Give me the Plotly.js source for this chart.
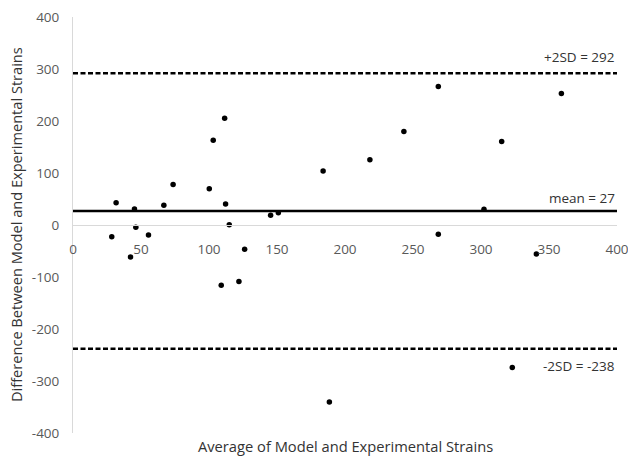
<!DOCTYPE html>
<html>
<head>
<meta charset="utf-8">
<script src="https://cdn.plot.ly/plotly-3.0.1.min.js"></script>
<style>
html,body{margin:0;padding:0;background:#fff;}
#chart{width:628px;height:457px;}
</style>
</head>
<body>
<div id="chart"></div>
<script>
// Average of model and experimental strains
var avgStrain = [31.7, 45.2, 46.2, 28.5, 55.5, 66.8, 73.6, 100.2, 103.1, 111.5, 112.2, 114.9, 145.3, 151.0, 183.9,
                 42.3, 109.0, 122.0, 126.2, 188.5,
                 218.3, 243.3, 268.6, 315.2, 359.1, 302.2, 268.6,
                 340.7, 323.0];
// Difference between model and experimental strains
var diffStrain = [42.8, 30.7, -4.5, -22.4, -19.2, 37.8, 78.1, 69.7, 163.2, 205.5, 40.3, 0.6, 18.6, 23.6, 103.7,
                  -61.4, -115.8, -108.8, -46.7, -340.5,
                  125.4, 179.9, 266.3, 160.7, 252.9, 30.1, -17.9,
                  -55.7, -274.0];
var limitNames = ['+2SD = 292', 'mean = 27', '-2SD = -238'];
var limitValues = [292, 27, -238];
var xSpan = [0, 400];
var yTicks = [-400, -300, -200, -100, 0, 100, 200, 300, 400];
var xTicks = [0, 50, 100, 150, 200, 250, 300, 350, 400];
var xTitle = 'Average of Model and Experimental Strains';
var yTitle = 'Difference Between Model and Experimental Strains';

var FONT = 'Open Sans, Noto Sans, sans-serif';
var traces = [];
limitValues.forEach(function(v, i){
  traces.push({
    x: xSpan, y: [v, v], mode: 'lines', hoverinfo: 'skip', showlegend: false,
    line: {color: '#000', width: 2.5, dash: i === 1 ? 'solid' : '5px,2.5px'}
  });
});
traces.push({
  x: avgStrain, y: diffStrain, mode: 'markers', type: 'scatter', showlegend: false,
  marker: {color: '#000', size: 5.5}
});

var annotations = [
  {x: 400, y: limitValues[0], text: limitNames[0], yshift: 16},
  {x: 400, y: limitValues[1], text: limitNames[1], yshift: 13},
  {x: 400, y: limitValues[2], text: limitNames[2], yshift: -17}
].map(function(a){
  return Object.assign({xref: 'x', yref: 'y', xanchor: 'right', yanchor: 'middle', showarrow: false,
    font: {family: FONT, size: 13.5, color: '#333333'}}, a);
});
annotations.push({
  xref: 'paper', yref: 'paper', x: 0.5, y: 0, yshift: -13, xanchor: 'center', yanchor: 'middle',
  showarrow: false, text: xTitle,
  font: {family: FONT, size: 14.7, color: '#333333'}
});
annotations.push({
  xref: 'paper', yref: 'paper', x: 0, y: 0.5, xshift: -57, xanchor: 'center', yanchor: 'middle',
  showarrow: false, text: yTitle, textangle: -90,
  font: {family: FONT, size: 14.6, color: '#333333'}
});

var layout = {
  width: 628, height: 457,
  margin: {l: 73, r: 11, t: 17, b: 24, pad: 0},
  paper_bgcolor: '#fff', plot_bgcolor: '#fff',
  showlegend: false,
  xaxis: {
    range: [0, 400], tickvals: xTicks, ticktext: xTicks.map(String),
    showgrid: false, zeroline: false, showline: true, linecolor: '#d9d9d9', linewidth: 1,
    anchor: 'free', position: 0.5, ticks: '', ticklabelstandoff: 12, ticklabeloverflow: 'allow',
    tickfont: {family: FONT, size: 13.5, color: '#595959'}, fixedrange: true
  },
  yaxis: {
    range: [-400, 400], tickvals: yTicks, ticktext: yTicks.map(String),
    showgrid: false, zeroline: false, showline: true, linecolor: '#d9d9d9', linewidth: 1,
    ticks: '', ticklabelstandoff: 10,
    tickfont: {family: FONT, size: 13.5, color: '#595959'},
    fixedrange: true
  },
  annotations: annotations
};

Plotly.newPlot('chart', traces, layout, {displayModeBar: false, staticPlot: true});
</script>
</body>
</html>
